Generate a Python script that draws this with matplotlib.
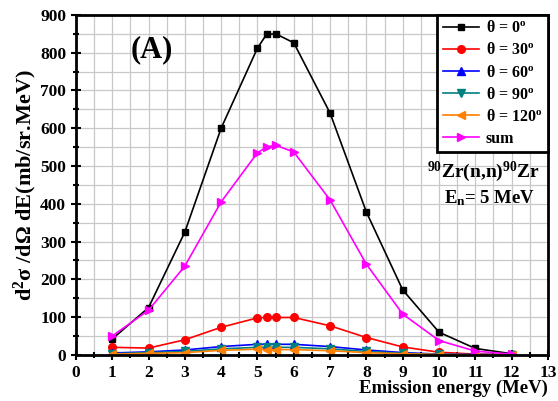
import matplotlib
matplotlib.use("Agg")
import matplotlib.pyplot as plt
from matplotlib.ticker import MultipleLocator

plt.rcParams['font.family'] = ['Liberation Serif', 'DejaVu Serif']
plt.rcParams['font.weight'] = 'bold'
plt.rcParams['mathtext.fontset'] = 'custom'
plt.rcParams['mathtext.rm'] = 'Liberation Serif:bold'
plt.rcParams['mathtext.it'] = 'Liberation Serif:bold'
plt.rcParams['mathtext.bf'] = 'Liberation Serif:bold'

energy = [1, 2, 3, 4, 5, 5.25, 5.5, 6, 7, 8, 9, 10, 11, 12]
theta0 = [42, 125, 325, 600, 812, 848, 850, 826, 640, 378, 172, 60, 17, 3]
theta30 = [20, 18, 40, 73, 98, 99, 99, 99, 77, 46, 21, 7, 2, 1]
theta60 = [5, 8, 13, 22, 28, 28, 28, 28, 22, 13, 6, 2, 1, 0.5]
theta90 = [3, 6, 9, 16, 20, 20, 20, 20, 16, 9, 4, 1.5, 0.5, 0.2]
theta120 = [2, 4, 6, 12, 15, 14, 14, 14, 11, 6, 3, 1, 0.3, 0.1]
total = [50, 118, 235, 405, 535, 550, 555, 537, 410, 240, 108, 38, 10, 2]

series = [
    (theta0, 'black', 's', 'θ = 0$^\\mathbf{o}$', 4.5),
    (theta30, 'red', 'o', 'θ = 30$^\\mathbf{o}$', 5.5),
    (theta60, 'blue', '^', 'θ = 60$^\\mathbf{o}$', 5.5),
    (theta90, '#008080', 'v', 'θ = 90$^\\mathbf{o}$', 5.5),
    (theta120, '#ff8000', '<', 'θ = 120$^\\mathbf{o}$', 5.5),
    (total, '#ff00ff', '>', 'sum', 5.5),
]

fig = plt.figure(figsize=(5.58, 4.01), dpi=100)
ax = fig.add_axes([0.136, 0.115, 0.846, 0.848])

for y, c, m, lab, ms in series:
    ax.plot(energy, y, color=c, marker=m, markersize=ms, linewidth=1.2, label=lab)

ax.set_xlim(0, 13)
ax.set_ylim(0, 900)
ax.xaxis.set_major_locator(MultipleLocator(1))
ax.xaxis.set_minor_locator(MultipleLocator(0.5))
ax.yaxis.set_major_locator(MultipleLocator(100))
ax.yaxis.set_minor_locator(MultipleLocator(50))
ax.grid(True, which='both', color='#c8c8c8', linewidth=0.9)
ax.set_axisbelow(True)
ax.tick_params(which='major', direction='inout', length=7, width=1.5, labelsize=12.5)
ax.tick_params(which='minor', direction='inout', length=4, width=1.5)
for lbl in ax.get_xticklabels() + ax.get_yticklabels():
    lbl.set_fontweight('bold')
for s in ax.spines.values():
    s.set_linewidth(2)

ax.set_xlabel('Emission energy (MeV)', fontsize=13.5, fontweight='bold', loc='right', labelpad=-1)
ax.set_ylabel(r'$\mathbf{d^2}$' + 'σ /dΩ dE(mb/sr.MeV)', fontsize=16, fontweight='bold', labelpad=1)

leg = ax.legend(loc='upper right', fontsize=11.5, frameon=True, fancybox=False,
                borderaxespad=0, handlelength=2.3, handletextpad=0.4,
                labelspacing=0.38, borderpad=0.35)
leg.get_frame().set_edgecolor('black')
leg.get_frame().set_linewidth(2)
leg.get_frame().set_alpha(1)
for t in leg.get_texts():
    t.set_fontweight('bold')

ax.text(0.16, 0.897, '(A)', transform=ax.transAxes, fontsize=22, fontweight='bold', ha='center', va='center')
ax.text(0.864, 0.538, r'$^{90}$Zr(n,n)$^{90}$Zr', transform=ax.transAxes, fontsize=14, fontweight='bold', ha='center', va='center')
ax.text(0.877, 0.462, r'E$_\mathbf{n}$= 5 MeV', transform=ax.transAxes, fontsize=13.5, fontweight='bold', ha='center', va='center')

fig.savefig('out.png', dpi=100)
